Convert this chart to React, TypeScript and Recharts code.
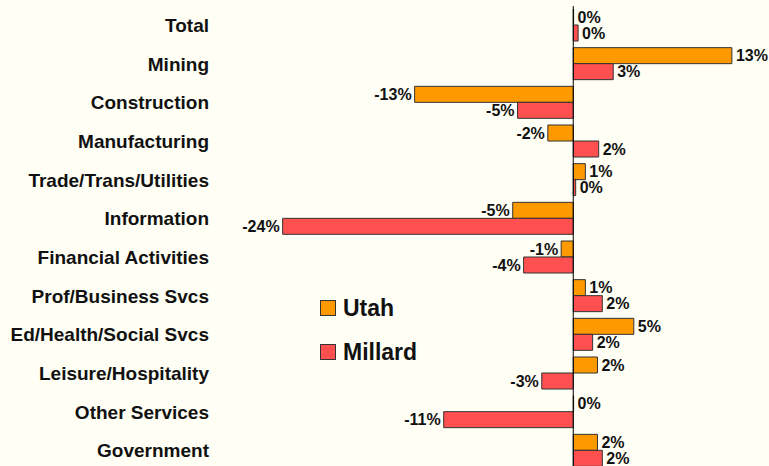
import { Bar, BarChart, LabelList, ReferenceLine, XAxis, YAxis } from "recharts";

const categories = [
  "Total",
  "Mining",
  "Construction",
  "Manufacturing",
  "Trade/Trans/Utilities",
  "Information",
  "Financial Activities",
  "Prof/Business Svcs",
  "Ed/Health/Social Svcs",
  "Leisure/Hospitality",
  "Other Services",
  "Government",
];

const utah = [0.03, 13.1, -13.1, -2.1, 1.0, -5.0, -1.0, 1.0, 5.0, 2.0, 0.03, 2.0];
const millard = [0.4, 3.3, -4.6, 2.1, 0.2, -24.0, -4.1, 2.4, 1.6, -2.6, -10.7, 2.4];

const data = categories.map((name, i) => ({ name, utah: utah[i], millard: millard[i] }));

const FONT = "Arial, 'Liberation Sans', sans-serif";
const UTAH = "#FF9900";
const MILLARD = "#FF5050";
const BG = "#FFFFF5";

// percent label on the outer end of each bar
function PctLabel(props: any) {
  const { x, y, width, height, value } = props;
  const a = Number(x);
  const b = Number(x) + Number(width);
  const neg = value < 0;
  const tx = neg ? Math.min(a, b) - 3 : Math.max(a, b) + 4;
  return (
    <text
      x={tx}
      y={Number(y) + Number(height) / 2}
      textAnchor={neg ? "end" : "start"}
      dominantBaseline="central"
      fontFamily={FONT}
      fontWeight="bold"
      fontSize={16}
      fill="#111"
    >
      {Math.round(value) + "%"}
    </text>
  );
}

const legendItems = [
  { label: "Utah", color: UTAH },
  { label: "Millard", color: MILLARD },
];

export default function App() {
  return (
    <div style={{ position: "absolute", left: 0, top: 0, width: 769, height: 471, background: BG, overflow: "hidden" }}>
      <BarChart
        width={769}
        height={471}
        data={data}
        layout="vertical"
        margin={{ top: 6, right: 2, bottom: 1, left: 0 }}
        barSize={16}
        barGap={0}
      >
        <XAxis type="number" domain={[-30, 16]} hide allowDataOverflow />
        <YAxis
          type="category"
          dataKey="name"
          width={210}
          axisLine={false}
          tickLine={false}
          tickSize={0}
          tickMargin={1}
          interval={0}
          tick={{ fontFamily: FONT, fontWeight: "bold", fontSize: 19, fill: "#111" }}
        />
        <Bar dataKey="utah" name="Utah" fill={UTAH} stroke="#333" strokeWidth={1} isAnimationActive={false}>
          <LabelList dataKey="utah" content={<PctLabel />} />
        </Bar>
        <Bar dataKey="millard" name="Millard" fill={MILLARD} stroke="#333" strokeWidth={1} isAnimationActive={false}>
          <LabelList dataKey="millard" content={<PctLabel />} />
        </Bar>
        <ReferenceLine x={0} stroke="#000" strokeWidth={1} />
      </BarChart>
      <div style={{ position: "absolute", left: 320, top: 286, fontFamily: FONT }}>
        {legendItems.map((it) => (
          <div key={it.label} style={{ display: "flex", alignItems: "center", height: 44 }}>
            <span
              style={{
                width: 14,
                height: 14,
                background: it.color,
                border: "1px solid #333",
                marginRight: 7,
              }}
            />
            <span style={{ fontWeight: "bold", fontSize: 23, color: "#111" }}>{it.label}</span>
          </div>
        ))}
      </div>
    </div>
  );
}
